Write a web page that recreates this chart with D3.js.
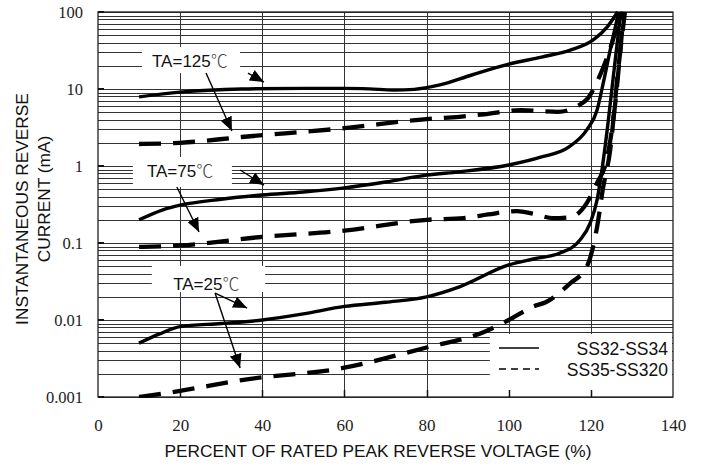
<!DOCTYPE html>
<html>
<head>
<meta charset="utf-8">
<script src="https://cdn.jsdelivr.net/npm/d3@7"></script>
<style>
  html, body { margin: 0; padding: 0; background: #fff; }
  svg { display: block; }
</style>
</head>
<body>
<svg id="chart" width="704" height="466"></svg>
<script>
// ---------------- DATA ----------------
const xTickValues = [0, 20, 40, 60, 80, 100, 120, 140];
const yTickValues = [0.001, 0.01, 0.1, 1, 10, 100];
const yTickLabels = ["0.001", "0.01", "0.1", "1", "10", "100"];

// TA = 125 C
const x125Solid = [10, 20, 35, 50, 60, 66, 72, 77, 83, 91, 100, 108, 115, 120.5, 124, 126.5];
const y125Solid = [7.9, 9.1, 10, 10.2, 10.2, 10.05, 9.7, 9.9, 11.2, 15.2, 21, 26, 32, 43, 64, 100];
const x125Dash  = [10, 20, 35, 60, 80, 88, 94, 103, 112, 116.7, 119.3, 121.7, 124, 127, 127.8];
const y125Dash  = [1.93, 2.0, 2.38, 3.1, 4.07, 4.35, 4.7, 5.3, 5.05, 6.0, 7.6, 13, 26, 79, 100];

// TA = 75 C
const x75Solid = [10, 15.8, 20, 30, 40, 50, 60, 70, 80, 88, 100, 108, 114.5, 119, 121.5, 123, 124.7, 126.8];
const y75Solid = [0.2, 0.27, 0.31, 0.37, 0.42, 0.46, 0.52, 0.62, 0.76, 0.84, 1.03, 1.31, 1.75, 2.94, 5.3, 11.8, 32, 100];
const x75Dash  = [10, 20, 40, 60, 80, 89, 95, 102, 106, 110.8, 115, 119, 121.5, 124, 126, 127, 128];
const y75Dash  = [0.089, 0.093, 0.12, 0.145, 0.2, 0.21, 0.235, 0.26, 0.24, 0.21, 0.216, 0.33, 0.6, 1.3, 7, 25, 100];

// TA = 25 C
const x25Solid = [10, 15, 20, 30, 40, 50, 60, 70, 80, 88, 100, 106, 112.5, 117.4, 119.8, 121.5, 122.7, 124, 125.5, 127.3];
const y25Solid = [0.005, 0.0066, 0.0082, 0.009, 0.01, 0.012, 0.015, 0.017, 0.02, 0.027, 0.052, 0.062, 0.074, 0.11, 0.18, 0.36, 0.89, 3, 15, 100];
const x25Dash  = [10, 20, 35, 60, 80, 94, 100, 106, 109, 115, 119, 121.5, 123, 124.7, 126.5, 128.3];
const y25Dash  = [0.001, 0.0012, 0.00166, 0.0024, 0.0044, 0.007, 0.01, 0.015, 0.017, 0.03, 0.049, 0.16, 0.53, 1.6, 15, 100];

const legendLabels = ["SS32-SS34", "SS35-SS320"];
const tempLabels = ["TA=125", "TA=75", "TA=25"];

// ---------------- LAYOUT ----------------
const svg = d3.select("#chart");
const X0 = 98, X1 = 673, Y0 = 397, Y1 = 12;
const x = d3.scaleLinear().domain([0, 140]).range([X0, X1]);
const y = d3.scaleLog().domain([0.001, 100]).range([Y0, Y1]);

const SANS = "'Liberation Sans', Arial, sans-serif";
const SERIF = "'Liberation Serif', 'Times New Roman', serif";
const INK = "#111";
const GRID = "#333";

// annotation layout (in data units)
const annotations = [
  { label: tempLabels[0], tx: 13.15, ty: 19.3,  box: [10.7, 34.6, 35.1, 16.1],
    arrows: [[26.3, 16.1, 32.6, 2.85], [36.5, 16.1, 40.4, 12.3]] },
  { label: tempLabels[1], tx: 11.9,  ty: 0.72,  box: [8.5, 32.6, 1.31, 0.533],
    arrows: [[19.2, 0.533, 24.6, 0.139], [34.6, 0.887, 40.4, 0.566]] },
  { label: tempLabels[2], tx: 18.3,  ty: 0.0245, box: [13.1, 40.7, 0.0503, 0.0231],
    arrows: [[28.5, 0.0224, 36.3, 0.0143], [28.5, 0.0224, 34.6, 0.00238]] }
];
const legendBox = [95.4, 140, 0.00658, 0.00123];

// ---------------- GRID ----------------
const grid = svg.append("g");
grid.selectAll("line.h").data(y.ticks()).join("line")
  .attr("x1", X0).attr("x2", X1)
  .attr("y1", d => Math.round(y(d)) + 0.5).attr("y2", d => Math.round(y(d)) + 0.5)
  .attr("stroke", GRID).attr("stroke-width", 1);
grid.selectAll("line.v").data(xTickValues.slice(1, -1)).join("line")
  .attr("x1", d => Math.round(x(d)) + 0.5).attr("x2", d => Math.round(x(d)) + 0.5)
  .attr("y1", Y1).attr("y2", Y0)
  .attr("stroke", GRID).attr("stroke-width", 1);

// white boxes behind labels
svg.selectAll("rect.lbl").data(annotations).join("rect")
  .attr("x", d => x(d.box[0])).attr("width", d => x(d.box[1]) - x(d.box[0]))
  .attr("y", d => y(d.box[2])).attr("height", d => y(d.box[3]) - y(d.box[2]))
  .attr("fill", "#fff");
svg.append("rect")
  .attr("x", x(legendBox[0])).attr("width", x(legendBox[1]) - x(legendBox[0]) - 1)
  .attr("y", y(legendBox[2])).attr("height", y(legendBox[3]) - y(legendBox[2]))
  .attr("fill", "#fff");

// ---------------- FRAME & TICKS ----------------
svg.append("rect").attr("x", X0).attr("y", Y1).attr("width", X1 - X0).attr("height", Y0 - Y1)
  .attr("fill", "none").attr("stroke", "#222").attr("stroke-width", 1.3);

// inner ticks
svg.selectAll("line.bt").data(xTickValues.slice(1, -1)).join("line")
  .attr("x1", d => Math.round(x(d)) + 0.5).attr("x2", d => Math.round(x(d)) + 0.5)
  .attr("y1", Y0).attr("y2", Y0 - 7).attr("stroke", INK).attr("stroke-width", 1.5);
svg.selectAll("line.lt").data(yTickValues).join("line")
  .attr("x1", X0).attr("x2", X0 + 6)
  .attr("y1", d => y(d)).attr("y2", d => y(d)).attr("stroke", INK).attr("stroke-width", 2);

// axes labels through d3 axes
const xAxis = d3.axisBottom(x).tickValues(xTickValues).tickSize(0).tickPadding(22)
  .tickFormat(d3.format("d"));
const gx = svg.append("g").attr("transform", `translate(0,${Y0})`).call(xAxis);
gx.select(".domain").remove();
gx.selectAll("text").attr("font-family", SERIF).attr("font-size", 17).attr("fill", "#222");

const yAxis = d3.axisLeft(y).tickValues(yTickValues).tickSize(0).tickPadding(15)
  .tickFormat((d, i) => yTickLabels[i]);
const gy = svg.append("g").attr("transform", `translate(${X0},0)`).call(yAxis);
gy.select(".domain").remove();
gy.selectAll("text").attr("font-family", SERIF).attr("font-size", 16.5).attr("fill", "#222");

// axis titles
svg.append("text").attr("x", 378).attr("y", 457).attr("text-anchor", "middle")
  .attr("font-family", SANS).attr("font-size", 17.3).attr("fill", INK)
  .text("PERCENT OF RATED PEAK REVERSE VOLTAGE (%)");
svg.append("text").attr("transform", "translate(28,209) rotate(-90)").attr("text-anchor", "middle")
  .attr("font-family", SANS).attr("font-size", 17.3).attr("fill", INK)
  .text("INSTANTANEOUS REVERSE");
svg.append("text").attr("transform", "translate(50,199) rotate(-90)").attr("text-anchor", "middle")
  .attr("font-family", SANS).attr("font-size", 17.3).attr("fill", INK)
  .text("CURRENT (mA)");

// ---------------- CURVES ----------------
svg.append("clipPath").attr("id", "plotclip").append("rect")
  .attr("x", X0).attr("y", Y1 - 1).attr("width", X1 - X0).attr("height", Y0 - Y1 + 2);

const series = [
  { xs: x125Solid, ys: y125Solid, dash: false },
  { xs: x125Dash,  ys: y125Dash,  dash: true },
  { xs: x75Solid,  ys: y75Solid,  dash: false },
  { xs: x75Dash,   ys: y75Dash,   dash: true },
  { xs: x25Solid,  ys: y25Solid,  dash: false },
  { xs: x25Dash,   ys: y25Dash,   dash: true }
];
const line = d3.line().x(d => x(d[0])).y(d => y(d[1])).curve(d3.curveMonotoneX);
svg.append("g").attr("clip-path", "url(#plotclip)")
  .selectAll("path").data(series).join("path")
  .attr("d", s => line(s.xs.map((v, i) => [v, s.ys[i]])))
  .attr("fill", "none").attr("stroke", "#000")
  .attr("stroke-width", s => s.dash ? 4.3 : 3.4)
  .attr("stroke-dasharray", s => s.dash ? "22,12" : null)
  .attr("stroke-linecap", "butt").attr("stroke-linejoin", "round");

// ---------------- ANNOTATIONS ----------------
const defs = svg.append("defs");
defs.append("marker").attr("id", "ah").attr("markerUnits", "userSpaceOnUse")
  .attr("viewBox", "0 0 14 12").attr("refX", 14).attr("refY", 6)
  .attr("markerWidth", 14).attr("markerHeight", 12).attr("orient", "auto")
  .append("path").attr("d", "M0,0 L14,6 L0,12 Z").attr("fill", "#000");

const ann = svg.append("g");
annotations.forEach(a => {
  a.arrows.forEach(r => {
    ann.append("line")
      .attr("x1", x(r[0])).attr("y1", y(r[1]))
      .attr("x2", x(r[2])).attr("y2", y(r[3]))
      .attr("stroke", "#000").attr("stroke-width", 1.4)
      .attr("marker-end", "url(#ah)");
  });
  const t = ann.append("text").attr("x", x(a.tx)).attr("y", y(a.ty))
    .attr("font-family", SANS).attr("font-size", 17).attr("fill", INK);
  t.append("tspan").text(a.label);
  t.append("tspan").attr("font-family", "'Noto Sans CJK TC', 'Noto Sans CJK SC', sans-serif")
    .attr("font-weight", 300).attr("fill", "#444").text("\u2103");
});

// ---------------- LEGEND ----------------
const lg = svg.append("g");
const legendRows = [{ label: legendLabels[0], dash: null, yy: 348 }, { label: legendLabels[1], dash: "7,5", yy: 369 }];
legendRows.forEach(r => {
  lg.append("line").attr("x1", 499).attr("x2", 539).attr("y1", r.yy).attr("y2", r.yy)
    .attr("stroke", "#000").attr("stroke-width", 1.6).attr("stroke-dasharray", r.dash);
  lg.append("text").attr("x", 668).attr("y", r.yy + 7).attr("text-anchor", "end")
    .attr("font-family", SANS).attr("font-size", 17.5).attr("fill", INK).text(r.label);
});
</script>
</body>
</html>
